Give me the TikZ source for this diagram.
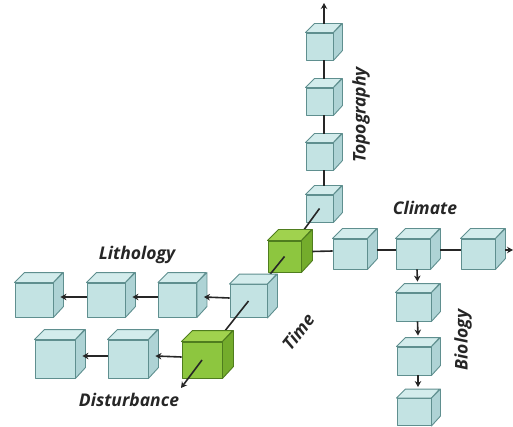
\documentclass[tikz,border=0pt]{standalone}
\usepackage{fontspec}
\setmainfont{Open Sans}
\usetikzlibrary{calc,arrows.meta}
\definecolor{cubeblue}{HTML}{C3E3E3}
\definecolor{cubebluetop}{HTML}{D3ECEC}
\definecolor{cubeblueside}{HTML}{AED3D5}
\definecolor{cubeblueline}{HTML}{5F8F8F}
\definecolor{cubegreen}{HTML}{8DC63F}
\definecolor{cubegreentop}{HTML}{A0D24E}
\definecolor{cubegreenside}{HTML}{74AC2C}
\definecolor{cubegreenline}{HTML}{4F7D1E}
\tikzset{
  bluecube/.style={draw=cubeblueline, fill=cubeblue, line width=0.9pt, line join=round},
  bluecube top/.style={bluecube, fill=cubebluetop},
  bluecube side/.style={bluecube, fill=cubeblueside},
  greencube/.style={draw=cubegreenline, fill=cubegreen, line width=0.9pt, line join=round},
  greencube top/.style={greencube, fill=cubegreentop},
  greencube side/.style={greencube, fill=cubegreenside},
  link/.style={draw=black!85, line width=1.6pt},
  arrowlink/.style={link, -{Stealth[length=6pt,width=6.5pt]}},
  axislabel/.style={font=\fontsize{17.5}{20}\selectfont\bfseries\itshape, text=black!85, inner sep=1pt},
}
% name, position, width, height, depth, style
\newcommand{\drawcube}[6]{%
  \node[#6, minimum width=#3pt, minimum height=#4pt, inner sep=0pt] (#1) at (#2) {};
  \draw[#6 top] (#1.north west) -- ++(#5,-#5) -- ++(#3,0) -- (#1.north east) -- cycle;
  \draw[#6 side] (#1.north east) -- ++(#5,-#5) -- ++(0,#4) -- (#1.south east) -- cycle;
}

\begin{document}
\begin{tikzpicture}[x=1pt,y=-1pt]
    \useasboundingbox (0,0) rectangle (513,427);

    %%% Cube positions %%%
    \coordinate (t1) at (319.5,46.5);   \coordinate (t2) at (319.5,101.5);
    \coordinate (t3) at (319.5,156.5);  \coordinate (t4) at (319.5,208.5);
    \coordinate (g1) at (284.5,256.5);  \coordinate (g2) at (202,360);
    \coordinate (c1) at (350,254);      \coordinate (c2) at (413,254);      \coordinate (c3) at (478,254);
    \coordinate (b1) at (413.5,307);    \coordinate (b2) at (414,361);      \coordinate (b3) at (414,412);
    \coordinate (l1) at (34,300);       \coordinate (l2) at (106,300);
    \coordinate (l3) at (177.5,300);    \coordinate (l4) at (248.5,301);
    \coordinate (d1) at (55,359);       \coordinate (d2) at (128,359);
    \coordinate (topend) at (324,3);    \coordinate (climend) at (513,250);
    \coordinate (timeend) at (181,388);

    %%% Topography %%%
    \drawcube{T1}{t1}{27}{27}{9}{bluecube}
    \drawcube{T2}{t2}{27}{27}{9}{bluecube}
    \drawcube{T3}{t3}{27}{27}{9}{bluecube}
    \drawcube{T4}{t4}{27}{27}{9}{bluecube}
    \draw[arrowlink] ($(T1.north)+(4.5,-9)$) -- (topend);
    \draw[link] ($(T1.south)+(4.5,0)$) -- ($(T2.north)+(4.5,-9)$);
    \draw[link] ($(T2.south)+(4.5,0)$) -- ($(T3.north)+(4.5,-9)$);
    \draw[link] ($(T3.south)+(4.5,0)$) -- ($(T4.north)+(4.5,-9)$);

    %%% Time (back part) %%%
    \draw[link] (t4) -- (g1);
    \drawcube{G1}{g1}{33}{31}{11}{greencube}

    %%% Climate %%%
    \drawcube{C1}{c1}{34}{30}{10}{bluecube}
    \drawcube{C2}{c2}{34}{30}{10}{bluecube}
    \drawcube{C3}{c3}{34}{30}{10}{bluecube}
    \draw[link] ($(G1.east)+(11,-5)$) -- ($(C1.west)+(0,-3)$);
    \draw[link] ($(C1.east)+(10,-4)$) -- ($(C2.west)+(0,-4)$);
    \draw[link] ($(C2.east)+(10,-4)$) -- ($(C3.west)+(0,-4)$);
    \draw[arrowlink] ($(C3.east)+(10,-4)$) -- (climend);

    %%% Biology %%%
    \drawcube{B1}{b1}{35}{28}{9}{bluecube}
    \drawcube{B2}{b2}{34}{28}{9}{bluecube}
    \drawcube{B3}{b3}{34}{27}{9}{bluecube}
    \draw[arrowlink] ($(C2.south)+(4,0)$) -- ($(B1.north)+(4,-11)$);
    \draw[arrowlink] ($(B1.south)+(4,0)$) -- ($(B2.north)+(4,-11)$);
    \draw[arrowlink] ($(B2.south)+(4,0)$) -- ($(B3.north)+(4,-11)$);

    %%% Lithology %%%
    \draw[link] (g1) -- (l4);
    \drawcube{L1}{l1}{38}{34}{10}{bluecube}
    \drawcube{L2}{l2}{38}{34}{10}{bluecube}
    \drawcube{L3}{l3}{38}{34}{10}{bluecube}
    \drawcube{L4}{l4}{37}{33}{10}{bluecube}
    \draw[arrowlink] ($(L4.west)+(0,-3)$) -- ($(L3.east)+(7,-3)$);
    \draw[arrowlink] ($(L3.west)+(0,-3)$) -- ($(L2.east)+(7,-3)$);
    \draw[arrowlink] ($(L2.west)+(0,-3)$) -- ($(L1.east)+(7,-3)$);

    %%% Disturbance %%%
    \draw[link] (l4) -- (g2);
    \drawcube{D1}{d1}{40}{38}{10}{bluecube}
    \drawcube{D2}{d2}{40}{38}{10}{bluecube}
    \drawcube{G2}{g2}{40}{36}{11}{greencube}
    \draw[arrowlink] ($(G2.west)+(0,-3)$) -- ($(D2.east)+(7,-3)$);
    \draw[arrowlink] ($(D2.west)+(0,-3)$) -- ($(D1.east)+(7,-3)$);
    \draw[arrowlink] (g2) -- (timeend);

    %%% Labels %%%
    \node[axislabel, rotate=90] (toplab) at (361,115) {Topography};
    \node[axislabel] (climlab) at (425,208) {Climate};
    \node[axislabel, rotate=90] (biolab) at (463,340) {Biology};
    \node[axislabel] (lithlab) at (137,255) {Lithology};
    \node[axislabel] (distlab) at (129,400) {Disturbance};
    \node[axislabel, rotate=52] (timelab) at (298,332) {Time};

\end{tikzpicture}
\end{document}
